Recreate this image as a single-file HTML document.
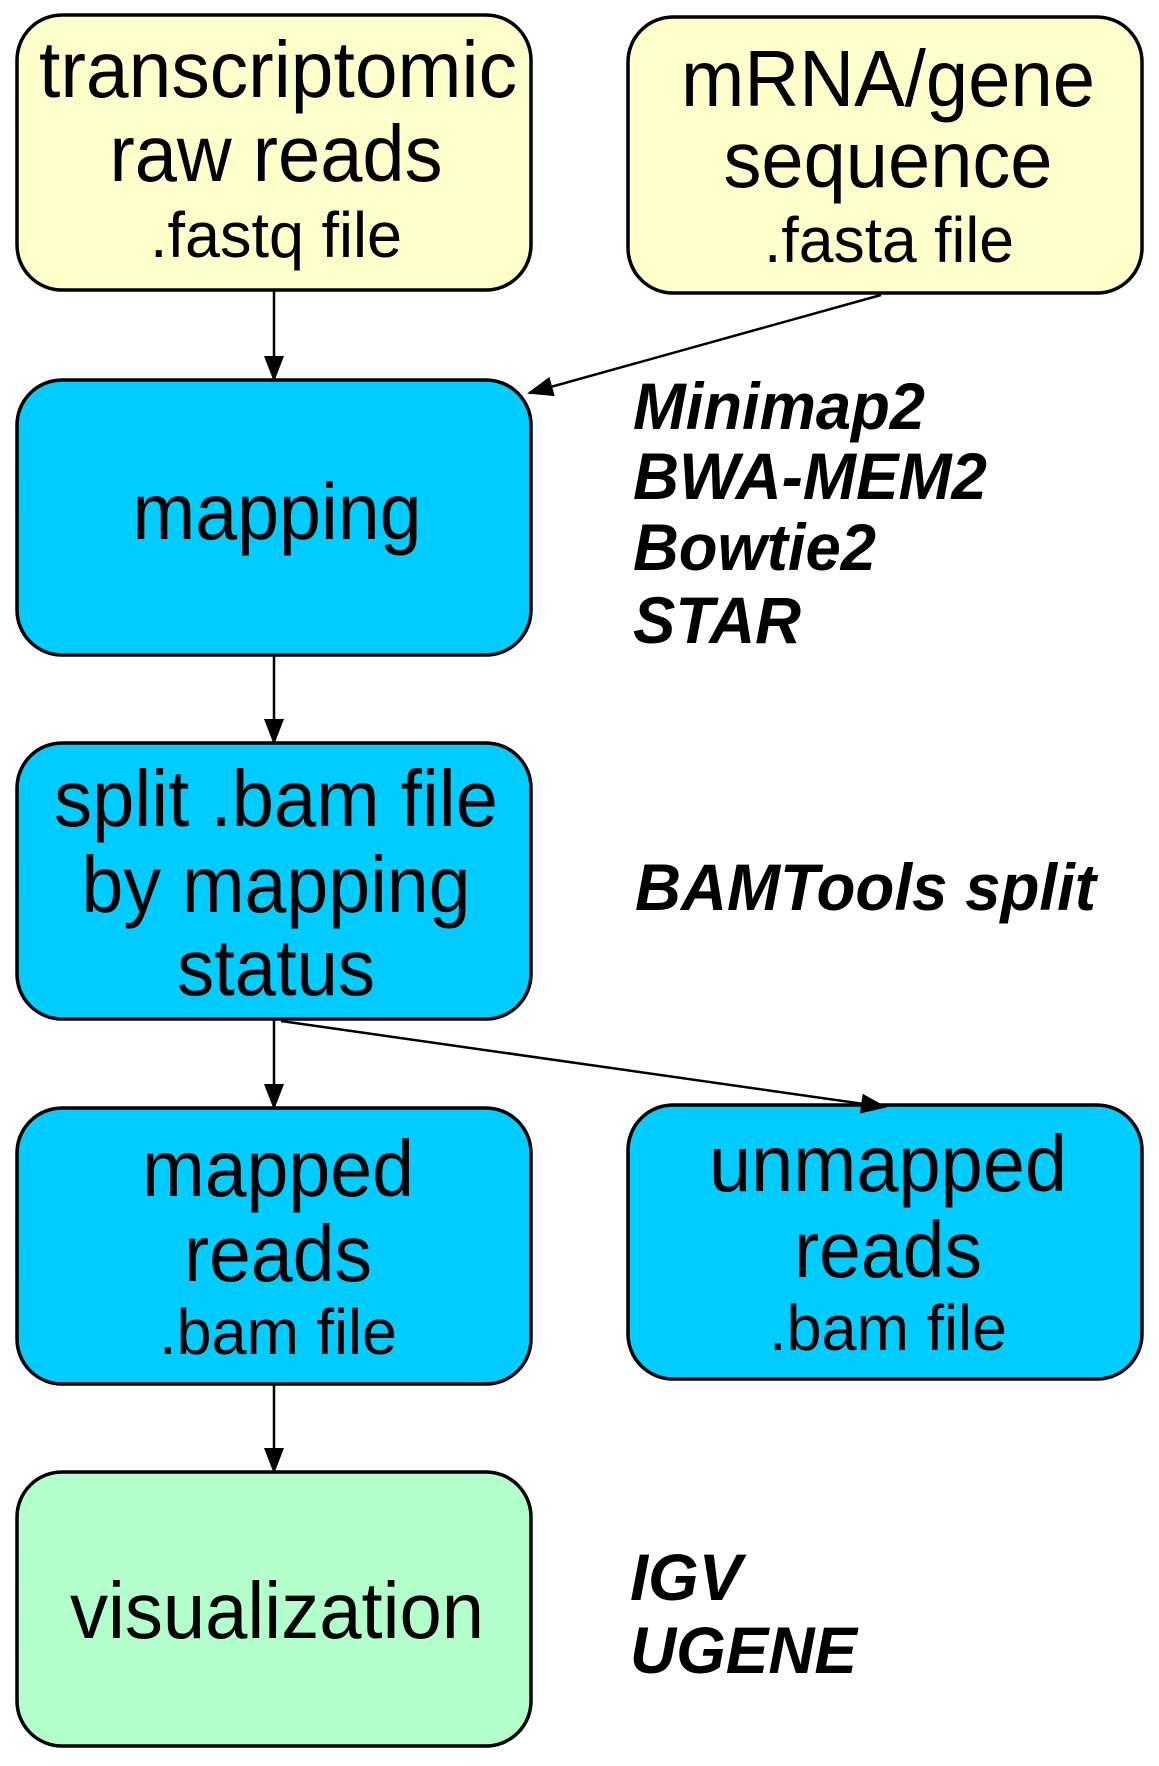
<!DOCTYPE html>
<html><head><meta charset="utf-8"><style>html,body{margin:0;padding:0;background:#fff}svg{display:block}</style></head>
<body>
<svg width="1159" height="1766" viewBox="0 0 1159 1766" xmlns="http://www.w3.org/2000/svg" font-family="Liberation Sans, Arial, sans-serif">
<defs>
<marker id="a" markerWidth="26" markerHeight="20" refX="24" refY="10" orient="auto" markerUnits="userSpaceOnUse">
<path d="M0,0 L26,10 L0,20 z" fill="#000"/></marker>
</defs>
<g stroke="#000" stroke-width="3.5">
<rect x="17" y="15" width="514" height="275" rx="45" fill="#ffffcc"/>
<rect x="628" y="17" width="514" height="276" rx="45" fill="#ffffcc"/>
<rect x="17" y="380" width="514" height="275" rx="45" fill="#00ccff"/>
<rect x="17" y="743" width="514" height="276" rx="45" fill="#00ccff"/>
<rect x="17" y="1108" width="514" height="276" rx="45" fill="#00ccff"/>
<rect x="628" y="1105" width="514" height="274" rx="45" fill="#00ccff"/>
<rect x="17" y="1472" width="514" height="274" rx="45" fill="#b3ffcc"/>
</g>
<g stroke="#000" stroke-width="2.5" fill="none">
<line x1="274" y1="290" x2="274" y2="380" marker-end="url(#a)"/>
<line x1="881" y1="295" x2="529" y2="393" marker-end="url(#a)"/>
<line x1="274" y1="655" x2="274" y2="743" marker-end="url(#a)"/>
<line x1="274" y1="1019" x2="274" y2="1108" marker-end="url(#a)"/>
<line x1="281" y1="1021" x2="885" y2="1107" marker-end="url(#a)"/>
<line x1="274" y1="1384" x2="274" y2="1472" marker-end="url(#a)"/>
</g>
<g fill="#000" text-anchor="middle" font-size="80">
<text x="278" y="97" textLength="478" lengthAdjust="spacingAndGlyphs">transcriptomic</text>
<text x="276" y="181" textLength="333" lengthAdjust="spacingAndGlyphs">raw reads</text>
<text x="276" y="257" font-size="64" textLength="252" lengthAdjust="spacingAndGlyphs">.fastq file</text>
<text x="888" y="106" textLength="414" lengthAdjust="spacingAndGlyphs">mRNA/gene</text>
<text x="888" y="187" textLength="329" lengthAdjust="spacingAndGlyphs">sequence</text>
<text x="889" y="262" font-size="64" textLength="250" lengthAdjust="spacingAndGlyphs">.fasta file</text>
<text x="277" y="539" textLength="289" lengthAdjust="spacingAndGlyphs">mapping</text>
<text x="276" y="826" textLength="444" lengthAdjust="spacingAndGlyphs">split .bam file</text>
<text x="276" y="912" textLength="389" lengthAdjust="spacingAndGlyphs">by mapping</text>
<text x="276" y="995" textLength="198" lengthAdjust="spacingAndGlyphs">status</text>
<text x="278" y="1196" textLength="272" lengthAdjust="spacingAndGlyphs">mapped</text>
<text x="278" y="1281" textLength="188" lengthAdjust="spacingAndGlyphs">reads</text>
<text x="278" y="1354" font-size="64" textLength="238" lengthAdjust="spacingAndGlyphs">.bam file</text>
<text x="888" y="1191" textLength="358" lengthAdjust="spacingAndGlyphs">unmapped</text>
<text x="888" y="1277" textLength="188" lengthAdjust="spacingAndGlyphs">reads</text>
<text x="888" y="1350" font-size="64" textLength="238" lengthAdjust="spacingAndGlyphs">.bam file</text>
<text x="277" y="1638" textLength="414" lengthAdjust="spacingAndGlyphs">visualization</text>
</g>
<g fill="#000" font-size="66" font-weight="bold" font-style="italic">
<text x="633" y="429" textLength="292" lengthAdjust="spacingAndGlyphs">Minimap2</text>
<text x="633" y="499" textLength="354" lengthAdjust="spacingAndGlyphs">BWA-MEM2</text>
<text x="633" y="570" textLength="243" lengthAdjust="spacingAndGlyphs">Bowtie2</text>
<text x="633" y="643" textLength="168" lengthAdjust="spacingAndGlyphs">STAR</text>
<text x="635" y="910" textLength="461" lengthAdjust="spacingAndGlyphs">BAMTools split</text>
<text x="630" y="1600" textLength="112" lengthAdjust="spacingAndGlyphs">IGV</text>
<text x="630" y="1673" textLength="227" lengthAdjust="spacingAndGlyphs">UGENE</text>
</g>
</svg>
</body></html>
